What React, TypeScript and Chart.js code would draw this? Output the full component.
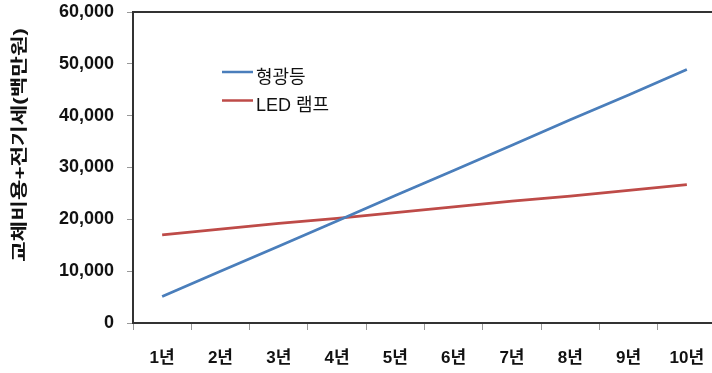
import React, { useEffect, useRef } from "react";
import { Chart, registerables } from "chart.js";

Chart.register(...registerables);

const categories = ["1년", "2년", "3년", "4년", "5년", "6년", "7년", "8년", "9년", "10년"];
const fluorescent = [5100, 10000, 14800, 19700, 24600, 29400, 34300, 39200, 44000, 48900];
const led = [17000, 18100, 19200, 20200, 21300, 22400, 23500, 24500, 25600, 26700];
const seriesNames = ["형광등", "LED 램프"];
const yTitle = "교체비용+전기세(백만원)";

const FONT = "'Liberation Sans', Arial, 'Noto Sans CJK KR', sans-serif";

const overlayPlugin = {
  id: "overlay",
  afterDraw(chart: any) {
    const ctx = chart.ctx as CanvasRenderingContext2D;
    const area = chart.chartArea;
    ctx.save();
    // top border
    ctx.strokeStyle = "#333";
    ctx.lineWidth = 2;
    ctx.beginPath();
    ctx.moveTo(area.left, area.top);
    ctx.lineTo(area.right, area.top);
    ctx.stroke();

    // legend
    const ds = chart.data.datasets;
    const lx1 = area.left + 89;
    const lx2 = area.left + 120;
    const ly = [area.top + 60, area.top + 88.5];
    ds.forEach((d: any, i: number) => {
      ctx.strokeStyle = d.borderColor;
      ctx.lineWidth = 2.5;
      ctx.beginPath();
      ctx.moveTo(lx1, ly[i]);
      ctx.lineTo(lx2, ly[i]);
      ctx.stroke();
      ctx.fillStyle = "#111";
      ctx.font = `18px ${FONT}`;
      ctx.textAlign = "left";
      ctx.textBaseline = "middle";
      ctx.fillText(d.label, lx2 + 3, ly[i] + 6);
    });

    // y title
    ctx.translate(20.5, 145);
    ctx.rotate(-Math.PI / 2);
    ctx.font = `bold 17px ${FONT}`;
    const w = ctx.measureText(yTitle).width;
    ctx.scale(234 / w, 1);
    ctx.fillStyle = "#111";
    ctx.textAlign = "center";
    ctx.textBaseline = "middle";
    ctx.fillText(yTitle, 0, 0);
    ctx.restore();
  },
};

export default function App() {
  const ref = useRef<HTMLCanvasElement | null>(null);
  useEffect(() => {
    document.body.style.margin = "0";
    document.body.style.overflow = "hidden";
    const chart = new Chart(ref.current as HTMLCanvasElement, {
      type: "line",
      data: {
        labels: categories,
        datasets: [
          {
            label: seriesNames[0],
            data: fluorescent,
            borderColor: "#4A7EBB",
            borderWidth: 2.75,
            pointRadius: 0,
            tension: 0,
          },
          {
            label: seriesNames[1],
            data: led,
            borderColor: "#BE4B48",
            borderWidth: 2.75,
            pointRadius: 0,
            tension: 0,
          },
        ],
      },
      options: {
        responsive: false,
        animation: false,
        layout: { padding: { top: 12, right: 4, left: 0, bottom: 0 } },
        plugins: { legend: { display: false }, tooltip: { enabled: false } },
        scales: {
          x: {
            offset: true,
            grid: {
              offset: true,
              drawOnChartArea: false,
              drawTicks: true,
              tickLength: 7,
              color: "#999",
            },
            border: { color: "#333", width: 2 },
            ticks: {
              color: "#111",
              font: { family: FONT, size: 17, weight: "bold" },
              padding: 18,
              maxRotation: 0,
              autoSkip: false,
            },
            afterFit(scale: any) {
              scale.height = 50;
              scale.paddingLeft = 0;
              scale.paddingRight = 0;
            },
          },
          y: {
            min: 0,
            max: 60000,
            grid: {
              drawOnChartArea: false,
              drawTicks: true,
              tickLength: 6,
              color: "#999",
            },
            border: { color: "#333", width: 2 },
            ticks: {
              stepSize: 10000,
              color: "#111",
              font: { family: FONT, size: 18, weight: "bold" },
              padding: 13,
              callback: (v: any) => Number(v).toLocaleString("en-US"),
            },
            afterFit(scale: any) {
              scale.width = 133;
              scale.paddingTop = 0;
              scale.paddingBottom = 0;
            },
          },
        },
      },
      plugins: [overlayPlugin],
    });
    return () => chart.destroy();
  }, []);
  return (
    <div style={{ position: "fixed", left: 0, top: 0, width: 712, height: 373, overflow: "hidden", background: "#fff" }}>
      <canvas ref={ref} width={720} height={373} />
    </div>
  );
}
